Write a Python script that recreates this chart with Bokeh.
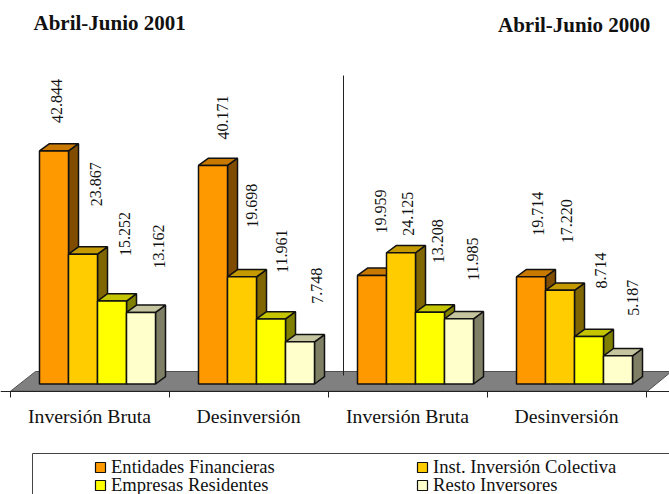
from bokeh.plotting import figure
from bokeh.embed import file_html
from bokeh.resources import INLINE
from bokeh.models import Range1d, FixedTicker
from bokeh.core.properties import value

groups = ["Inversión Bruta", "Desinversión", "Inversión Bruta", "Desinversión"]
series_names = ["Entidades Financieras", "Inst. Inversión Colectiva", "Empresas Residentes", "Resto Inversores"]
entidades = [42.844, 40.171, 19.959, 19.714]
institucional = [23.867, 19.698, 24.125, 17.220]
empresas = [15.252, 11.961, 13.208, 8.714]
resto = [13.162, 7.748, 11.985, 5.187]
titles = ["Abril-Junio 2001", "Abril-Junio 2000"]

# styling / layout (pixels of the page)
front = ["#FF9900", "#FFCC00", "#FFFF00", "#FFFFCC"]
top = ["#C97900", "#C49A00", "#C4C400", "#C4C49E"]
side = ["#7F4C00", "#7F6600", "#7F7F00", "#7F7F66"]
label_dx = [[3, 13, 13, 18], [10, 10, 11, 17], [9, 7, 8, 14], [7, 7, 12, 15]]
label_dy = [[-28, -48, -45, -44], [-26, -49, -46, -38], [-42, -17, -49, -38], [-41, -47, -48, -40]]

PX_X, PX_Y = 159.0, 5.44
X0, Y0 = 97.0, 383.5
def X(px): return (px - X0) / PX_X
def Y(py): return (Y0 - py) / PX_Y

W, H = 669, 494
p = figure(width=W, height=H, output_backend="svg", toolbar_location=None,
           x_range=Range1d(X(0), X(669)), y_range=Range1d(Y(494), Y(0)),
           y_axis_location=None, min_border=0)
p.grid.visible = False
p.outline_line_color = None
p.background_fill_color = "white"

# floor
p.patch([X(10), X(647), X(671), X(35)], [Y(390.7), Y(390.7), Y(371), Y(371)],
        fill_color="#808080", line_color="#505050", line_width=1)

# axis
centers = [round(g - 0.05, 3) for g in range(4)]
bounds = [round(g - 0.55, 3) for g in range(5)]
ax = p.xaxis[0]
ax.fixed_location = Y(390.7)
ax.ticker = FixedTicker(ticks=centers, minor_ticks=bounds)
ax.major_label_overrides = {c: g for c, g in zip(centers, groups)}
ax.major_tick_in = 0
ax.major_tick_out = 0
ax.minor_tick_in = 0
ax.minor_tick_out = 6
ax.axis_line_color = "#222222"
ax.minor_tick_line_color = "#222222"
ax.major_label_text_font = "Liberation Serif"
ax.major_label_text_font_size = "19.7px"
ax.major_label_text_color = "#111111"
ax.major_label_standoff = 8

# separator
p.line([X(343), X(343)], [Y(75), Y(375)], line_color="#222222", line_width=1)

# bars
bar_w = 29 / PX_X
ddx, ddy = 10 / PX_X, 7.3 / PX_Y
all_series = [entidades, institucional, empresas, resto]
for g in range(4):
    for s, vals in enumerate(all_series):
        v = vals[g]
        c = g + (s - 1.5) * bar_w
        l, r = c - bar_w / 2, c + bar_w / 2
        p.patch([r, r + ddx, r + ddx, r], [0, ddy, v + ddy, v], fill_color=side[s],
                line_color="#111111", line_width=1.5)
        p.patch([l, l + ddx, r + ddx, r], [v, v + ddy, v + ddy, v], fill_color=top[s],
                line_color="#111111", line_width=1.5)
        p.quad(left=[l], right=[r], bottom=[0], top=[v], fill_color=front[s],
               line_color="#111111", line_width=1.5)
        p.text([c], [v], text=[f"{v:.3f}"], angle=1.5708, x_offset=label_dx[g][s], y_offset=label_dy[g][s],
               text_font=value("Liberation Serif"), text_font_size="16px", text_color="#111111",
               text_align="left", text_baseline="middle")

# titles
for t, px, py in zip(titles, [33, 497.5], [22.5, 24.5]):
    p.text([X(px)], [Y(py)], text=[t], text_font=value("Liberation Serif"), text_font_style="bold",
           text_font_size="21px", text_color="#111111", text_align="left", text_baseline="middle")

# legend
p.line([X(32), X(32), X(669)], [Y(494), Y(453), Y(453)], line_color="#444444", line_width=1)
pos = [(100, 466), (422, 466), (100, 484), (422, 484)]
for i, (name, (px, py)) in enumerate(zip(series_names, pos)):
    p.scatter([X(px)], [Y(py + 1)], marker="square", size=10, fill_color=front[i], line_color="#111111", line_width=1.2)
    p.text([X(px + 10.5)], [Y(py)], text=[name], text_font=value("Liberation Serif"), text_font_size="18.6px",
           text_color="#111111", text_align="left", text_baseline="middle")

open("out.html", "w").write(file_html(p, INLINE))
